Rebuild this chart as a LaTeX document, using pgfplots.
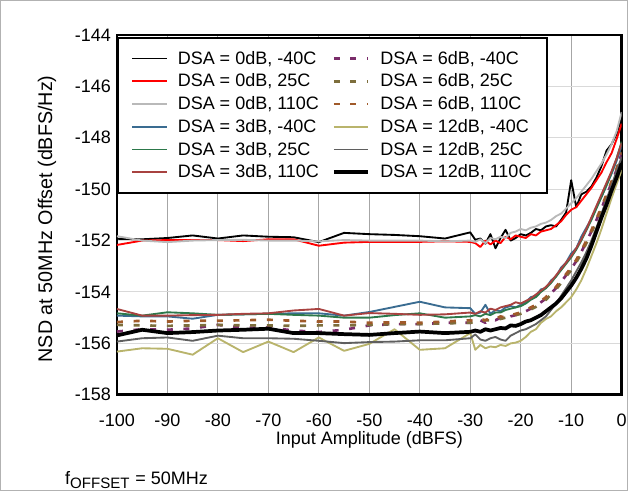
\documentclass[border=0pt]{standalone}
\usepackage{pgfplots}
\pgfplotsset{compat=1.18}
\usepackage{pgfplotstable}
\usepackage{fontspec}
\setmainfont{Liberation Sans}

\definecolor{cC}{RGB}{185,185,185}
\definecolor{cD}{RGB}{58,108,145}
\definecolor{cE}{RGB}{44,120,74}
\definecolor{cF}{RGB}{168,66,64}
\definecolor{cG}{RGB}{122,44,106}
\definecolor{cH}{RGB}{125,110,60}
\definecolor{cI}{RGB}{160,90,42}
\definecolor{cJ}{RGB}{185,180,108}
\definecolor{cK}{RGB}{95,95,95}

\pgfplotstableread{
x A B C D E F G H I J K L
-100 -151.93 -152.17 -151.83 -154.92 -154.83 -154.66 -155.54 -155.28 -155.17 -156.32 -155.93 -155.69
-95 -151.95 -152.00 -152.00 -154.95 -154.92 -154.92 -155.45 -155.30 -155.12 -156.19 -155.80 -155.47
-90 -151.90 -151.98 -152.06 -154.95 -154.79 -154.92 -155.47 -155.32 -155.15 -156.21 -155.77 -155.60
-85 -151.80 -151.98 -152.00 -155.04 -154.83 -154.90 -155.42 -155.30 -155.12 -156.44 -155.90 -155.56
-80 -151.92 -151.98 -151.98 -154.89 -154.89 -154.89 -155.28 -155.28 -155.12 -155.80 -155.70 -155.50
-75 -151.80 -152.02 -151.97 -154.87 -154.87 -154.85 -155.40 -155.30 -155.10 -156.34 -155.80 -155.47
-70 -151.85 -151.95 -152.00 -154.85 -154.85 -154.83 -155.38 -155.30 -155.08 -155.93 -155.80 -155.43
-65 -151.87 -151.95 -152.00 -154.83 -154.89 -154.72 -155.50 -155.32 -155.12 -156.34 -155.82 -155.60
-60 -152.06 -152.20 -152.03 -154.83 -154.92 -154.66 -155.56 -155.30 -155.15 -155.77 -155.90 -155.60
-55 -151.70 -152.08 -151.98 -154.92 -155.00 -154.92 -155.47 -155.30 -155.15 -156.29 -155.99 -155.64
-50 -151.75 -152.05 -152.00 -154.78 -155.00 -154.82 -155.30 -155.28 -155.20 -156.02 -155.95 -155.67
-45 -151.78 -152.05 -152.00 -154.58 -154.90 -154.85 -155.25 -155.25 -155.18 -155.45 -155.93 -155.60
-40 -151.83 -152.05 -152.00 -154.38 -154.83 -154.89 -155.25 -155.25 -155.20 -156.25 -155.88 -155.54
-35 -151.92 -152.03 -152.03 -154.60 -155.00 -154.87 -155.20 -155.22 -155.15 -156.19 -155.88 -155.60
-30 -151.68 -152.05 -152.00 -154.63 -154.95 -154.80 -155.20 -155.20 -155.10 -155.60 -155.80 -155.55
-29 -151.97 -152.10 -152.05 -154.85 -154.90 -154.85 -155.25 -155.15 -155.15 -156.25 -155.65 -155.50
-28 -151.92 -152.25 -151.95 -154.80 -154.95 -154.75 -155.10 -155.15 -155.05 -156.06 -155.85 -155.55
-27 -152.12 -152.00 -152.10 -154.50 -154.85 -154.80 -155.20 -155.10 -155.10 -156.19 -155.90 -155.45
-26 -151.75 -152.15 -151.90 -154.85 -154.90 -154.65 -155.05 -155.10 -155.00 -156.12 -155.80 -155.50
-25 -152.30 -152.00 -151.95 -154.70 -154.80 -154.70 -155.10 -155.05 -155.05 -156.15 -155.75 -155.45
-24 -151.90 -152.10 -151.85 -154.75 -154.80 -154.60 -155.00 -155.05 -154.95 -156.06 -155.85 -155.40
-23 -151.58 -151.85 -151.90 -154.60 -154.70 -154.55 -155.05 -155.00 -155.00 -156.10 -155.90 -155.42
-22 -152.00 -151.95 -151.70 -154.55 -154.65 -154.50 -154.95 -154.95 -154.90 -156.00 -155.70 -155.30
-21 -151.90 -151.80 -151.65 -154.60 -154.60 -154.40 -154.90 -154.90 -154.85 -155.97 -155.60 -155.32
-20 -151.75 -151.85 -151.55 -154.50 -154.55 -154.45 -154.85 -154.85 -154.80 -155.90 -155.50 -155.25
-19 -151.80 -151.90 -151.60 -154.40 -154.45 -154.35 -154.75 -154.78 -154.70 -155.75 -155.45 -155.15
-18 -151.70 -151.75 -151.50 -154.20 -154.30 -154.25 -154.65 -154.68 -154.60 -155.55 -155.35 -155.10
-17 -151.55 -151.80 -151.45 -154.15 -154.20 -154.10 -154.55 -154.58 -154.50 -155.45 -155.25 -155.00
-16 -151.60 -151.65 -151.35 -153.90 -154.00 -153.95 -154.40 -154.45 -154.35 -155.20 -155.10 -154.90
-15 -151.45 -151.60 -151.30 -153.85 -153.85 -153.80 -154.25 -154.30 -154.20 -155.05 -154.95 -154.75
-14 -151.40 -151.55 -151.20 -153.55 -153.65 -153.60 -154.05 -154.10 -154.00 -154.95 -154.70 -154.60
-13 -151.45 -151.40 -151.05 -153.40 -153.40 -153.35 -153.85 -153.90 -153.80 -154.75 -154.45 -154.45
-12 -151.20 -151.25 -150.95 -153.05 -153.15 -153.10 -153.60 -153.65 -153.55 -154.60 -154.15 -154.25
-11 -150.90 -151.00 -150.75 -152.85 -152.90 -152.85 -153.35 -153.40 -153.30 -154.40 -153.85 -154.00
-10 -149.65 -150.80 -150.55 -152.50 -152.65 -152.60 -153.10 -153.15 -153.05 -154.20 -153.55 -153.75
-9 -150.70 -150.70 -150.35 -152.30 -152.35 -152.30 -152.80 -152.85 -152.75 -153.90 -153.20 -153.45
-8 -150.20 -150.45 -150.10 -151.85 -152.00 -151.95 -152.45 -152.50 -152.40 -153.55 -152.85 -153.10
-7 -150.10 -150.20 -149.85 -151.50 -151.60 -151.55 -152.05 -152.10 -152.00 -153.10 -152.45 -152.70
-6 -149.90 -149.95 -149.60 -151.15 -151.20 -151.10 -151.65 -151.70 -151.60 -152.60 -152.00 -152.20
-5 -149.55 -149.65 -149.30 -150.70 -150.75 -150.65 -151.20 -151.25 -151.15 -152.10 -151.50 -151.65
-4 -149.10 -149.35 -149.00 -150.30 -150.30 -150.20 -150.75 -150.80 -150.70 -151.55 -150.95 -151.10
-3 -148.50 -148.95 -148.65 -149.85 -149.85 -149.75 -150.25 -150.30 -150.20 -150.95 -150.40 -150.60
-2 -148.25 -148.60 -148.25 -149.40 -149.35 -149.30 -149.75 -149.80 -149.70 -150.35 -149.85 -150.05
-1 -147.85 -148.05 -147.75 -148.90 -148.80 -148.80 -149.25 -149.30 -149.20 -149.80 -149.30 -149.55
0 -147.20 -147.45 -147.00 -148.30 -148.15 -148.20 -148.60 -148.65 -148.55 -149.25 -148.75 -149.00
}\data

\begin{document}
\begin{tikzpicture}[font=\fontsize{13.5}{16}\selectfont]
\draw[gray!60, line width=0.75pt] (0.375pt,0.375pt) rectangle (470.625pt,367.875pt);
\begin{axis}[
  at={(87.75pt,72pt)}, anchor=south west,
  width=378.75pt, height=270pt, scale only axis,
  xmin=-100, xmax=0, ymin=-158, ymax=-144,
  xtick={-100,-90,-80,-70,-60,-50,-40,-30,-20,-10,0},
  ytick={-158,-156,-154,-152,-150,-148,-146,-144},
  xticklabels={-100,-90,-80,-70,-60,-50,-40,-30,-20,-10,0},
  yticklabels={-158,-156,-154,-152,-150,-148,-146,-144},
  major tick length=0pt,
  xticklabel style={inner sep=1pt, yshift=-12.9pt},
  yticklabel style={xshift=-1pt},
  axis line style={line width=2pt, black},
  xmajorgrids, ymajorgrids,
  x grid style={gray!70, line width=0.75pt},
  y grid style={gray!30, line width=0.75pt},
  xlabel={Input Amplitude (dBFS)},
  ylabel={\fontsize{14.8}{17}\selectfont NSD at 50MHz Offset (dBFS/Hz)},
  every axis x label/.style={at={(axis description cs:0.5,0)}, anchor=center, inner sep=1pt, yshift=-33.75pt},
  every axis y label/.style={at={(axis description cs:0,0.5)}, anchor=center, xshift=-52.5pt, yshift=-3pt, rotate=90},
  legend columns=2,
  legend cell align=left,
  legend image code/.code={\draw[#1] (0pt,0pt) -- (26pt,0pt);},
  legend style={at={(rel axis cs:0,1)}, anchor=north west, yshift=-1.5pt, draw=black, line width=1.5pt, fill=white,
    font=\fontsize{13.5}{16}\selectfont, inner xsep=10pt, inner ysep=8pt,
    nodes={inner sep=1.75pt}, row sep=2.3pt,
    /tikz/every odd column/.style={column sep=5.75pt},
    /tikz/every even column/.style={column sep=8pt}},
  every axis plot/.append style={line join=round},
]
\addplot[black, line width=1.4pt] table[x=x,y=A]{\data};
\addlegendentry{DSA = 0dB, -40C}
\addplot[cG, line width=2pt, dash pattern=on 4.5pt off 8pt] table[x=x,y=G]{\data};
\addlegendentry{DSA = 6dB, -40C}
\addplot[red, line width=1.4pt] table[x=x,y=B]{\data};
\addlegendentry{DSA = 0dB, 25C}
\addplot[cH, line width=2pt, dash pattern=on 4.5pt off 8pt] table[x=x,y=H]{\data};
\addlegendentry{DSA = 6dB, 25C}
\addplot[cC, line width=1.4pt] table[x=x,y=C]{\data};
\addlegendentry{DSA = 0dB, 110C}
\addplot[cI, line width=2pt, dash pattern=on 4.5pt off 8pt] table[x=x,y=I]{\data};
\addlegendentry{DSA = 6dB, 110C}
\addplot[cD, line width=1.4pt] table[x=x,y=D]{\data};
\addlegendentry{DSA = 3dB, -40C}
\addplot[cJ, line width=1.4pt] table[x=x,y=J]{\data};
\addlegendentry{DSA = 12dB, -40C}
\addplot[cE, line width=1.4pt] table[x=x,y=E]{\data};
\addlegendentry{DSA = 3dB, 25C}
\addplot[cK, line width=1.4pt] table[x=x,y=K]{\data};
\addlegendentry{DSA = 12dB, 25C}
\addplot[cF, line width=1.4pt] table[x=x,y=F]{\data};
\addlegendentry{DSA = 3dB, 110C}
\addplot[black, line width=2.8pt] table[x=x,y=L]{\data};
\addlegendentry{DSA = 12dB, 110C}
\end{axis}
\node[anchor=base west, inner sep=0pt] at (48.75pt,4.6pt) {f\textsubscript{\fontsize{11.3}{13}\selectfont OFFSET} = 50MHz};
\end{tikzpicture}
\end{document}
